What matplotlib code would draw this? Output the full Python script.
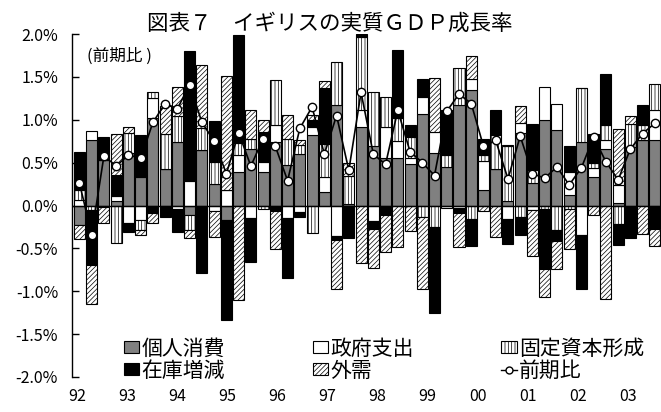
import numpy as np
import matplotlib
matplotlib.use("Agg")
import matplotlib.pyplot as plt
from matplotlib.patches import Patch
from matplotlib.lines import Line2D

plt.rcParams['font.family'] = ['Noto Sans CJK JP', 'DejaVu Sans']
plt.rcParams['hatch.linewidth'] = 0.5

# ---- data: contributions to UK real GDP growth, q/q %, 1992Q1-2003Q4 ----
years = ['92', '93', '94', '95', '96', '97', '98', '99', '00', '01', '02', '03']

consumption = [-0.23, 0.77, 0.53, 0.05, 0.61, 0.33, 1.02, 0.43, 0.74, -0.11, 0.65, 0.25,
               -0.17, 0.39, 0.66, 0.39, 0.74, 0.47, 0.60, 0.82, 0.16, 1.17, 0.02, 0.92,
               0.70, 0.55, 0.55, 0.49, 1.07, 0.61, 0.45, 1.17, 1.35, 0.18, 0.43, 0.05,
               0.85, 0.26, 1.00, 0.88, 0.12, 0.74, 0.33, 0.66, 0.03, 0.68, 0.76, 0.76]
government = [0.06, 0.10, 0.00, 0.06, -0.20, -0.17, 0.24, 0.00, -0.04, 0.29, 0.00, -0.06,
              0.18, 0.20, -0.15, 0.12, 0.20, -0.15, -0.08, 0.10, 0.17, -0.36, 0.00, 0.19,
              -0.18, 0.37, 0.20, 0.06, 0.20, 0.25, -0.03, -0.03, 0.13, 0.34, 0.00, -0.16,
              0.11, -0.05, 0.38, 0.30, 0.27, -0.35, 0.11, 0.10, 0.21, 0.00, 0.00, 0.36]
fixed_capital = [0.12, -0.05, -0.02, -0.44, 0.24, -0.12, 0.06, 0.41, 0.31, -0.18, 0.26, 0.26,
                 0.00, 0.14, 0.12, -0.04, 0.52, 0.31, 0.11, -0.32, 0.39, 0.50, 0.33, 0.86,
                 0.63, 0.35, 0.27, 0.25, -0.14, -0.25, 0.14, 0.44, -0.16, 0.07, 0.39, 0.64,
                 -0.13, 0.15, -0.04, -0.29, -0.04, 0.63, 0.06, 0.18, -0.22, 0.27, 0.18, 0.30]
inventories = [0.44, -0.64, 0.27, 0.25, -0.11, 0.49, -0.09, -0.13, -0.27, 1.51, -0.79, 0.48,
               -1.17, 1.26, -0.51, 0.35, -0.07, -0.70, -0.06, 0.08, 0.65, -0.04, -0.38, 0.03,
               -0.10, -0.11, 0.79, 0.14, 0.21, -1.01, 0.52, -0.06, -0.31, 0.19, 0.30, -0.29,
               -0.22, 0.54, -0.70, -0.12, 0.31, -0.63, 0.34, 0.59, -0.24, -0.38, 0.23, -0.28]
net_exports = [-0.16, -0.46, -0.19, 0.48, 0.07, -0.06, -0.12, 0.32, 0.33, -0.09, 0.73, -0.31,
               1.33, -1.10, 0.34, 0.14, -0.44, 0.28, 0.05, 0.06, 0.08, -0.58, 0.15, -0.67,
               -0.45, -0.43, -0.49, -0.30, -0.83, 0.63, 0.00, -0.40, 0.26, -0.06, -0.37, 0.02,
               0.20, -0.54, -0.33, -0.33, -0.47, 0.00, -0.11, -1.09, 0.65, 0.09, -0.33, -0.19]
gdp_growth = [0.26, -0.34, 0.58, 0.46, 0.59, 0.55, 0.97, 1.19, 1.13, 1.41, 0.97, 0.75,
              0.37, 0.85, 0.46, 0.78, 0.69, 0.29, 0.90, 1.15, 0.60, 1.05, 0.41, 1.32,
              0.60, 0.48, 1.11, 0.63, 0.50, 0.35, 1.10, 1.30, 1.19, 0.69, 0.76, 0.31,
              0.81, 0.37, 0.32, 0.45, 0.24, 0.44, 0.80, 0.51, 0.30, 0.66, 0.84, 0.96]

HATCH_STRIPE = '|||||'
HATCH_DIAG = '///////'

# stacking order, bottom to top (positives up, negatives down)
series = [
    ('個人消費', consumption, '#808080', None),
    ('政府支出', government, 'white', None),
    ('固定資本形成', fixed_capital, 'white', HATCH_STRIPE),
    ('在庫増減', inventories, 'black', None),
    ('外需', net_exports, 'white', HATCH_DIAG),
]

fig = plt.figure(figsize=(6.61, 4.12), dpi=100)
ax = fig.add_axes([72 / 661, 35.1 / 412, 589 / 661, 342.8 / 412])

x = np.arange(len(gdp_growth))
pos_base = np.zeros(len(x))
neg_base = np.zeros(len(x))
for name, vals, fc, hatch in series:
    v = np.asarray(vals)
    base = np.where(v >= 0, pos_base, neg_base)
    ax.bar(x, v, bottom=base, width=0.9, color=fc, edgecolor='black',
           linewidth=0.8, hatch=hatch, zorder=2)
    pos_base += np.clip(v, 0, None)
    neg_base += np.clip(v, None, 0)

ax.axhline(0, color='black', linewidth=1.0, zorder=3)
ax.plot(x, gdp_growth, '-o', color='black', linewidth=1.2, markersize=6,
        markerfacecolor='white', markeredgecolor='black', markeredgewidth=1.0, zorder=5)

ax.set_xlim(-0.61, 47.5)
ax.set_ylim(-2.0, 2.0)
yt = np.arange(-2.0, 2.01, 0.5)
ax.set_yticks(yt)
ax.set_yticklabels([f'{v:.1f}%' for v in yt], fontsize=11.5)
ax.tick_params(axis='y', direction='in', length=5, width=1, pad=10)

ax.set_xticks(np.linspace(-0.2, 44.8, len(years)))
ax.set_xticklabels(years, fontsize=11.5)
ax.tick_params(axis='x', length=0, pad=8)

for side in ('top', 'right', 'bottom'):
    ax.spines[side].set_visible(False)
ax.spines['left'].set_linewidth(1.0)

ax.text(0.025, 0.935, '(前期比 )', transform=ax.transAxes, fontsize=12,
        ha='left', va='center')

fig.text(330 / 661, 1 - 24 / 412, '図表７　イギリスの実質ＧＤＰ成長率', fontsize=15.5,
         ha='center', va='center')

handles = [
    Patch(facecolor='#808080', edgecolor='black', linewidth=0.8),
    Patch(facecolor='black', edgecolor='black', linewidth=0.8),
    Patch(facecolor='white', edgecolor='black', linewidth=0.8),
    Patch(facecolor='white', edgecolor='black', linewidth=0.8, hatch=HATCH_DIAG),
    Patch(facecolor='white', edgecolor='black', linewidth=0.8, hatch=HATCH_STRIPE),
    Line2D([], [], color='black', linewidth=1.0, marker='o', markersize=5,
           markerfacecolor='white', markeredgecolor='black'),
]
labels = ['個人消費', '在庫増減', '政府支出', '外需', '固定資本形成', '前期比']
ax.legend(handles, labels, ncol=3, loc='upper left', bbox_to_anchor=(0.088, 0.115),
          frameon=False, fontsize=15, handlelength=0.75, handleheight=0.55,
          handletextpad=0.1, columnspacing=4.2, labelspacing=0.0,
          borderpad=0, borderaxespad=0)

fig.savefig('out.png', dpi=100)
